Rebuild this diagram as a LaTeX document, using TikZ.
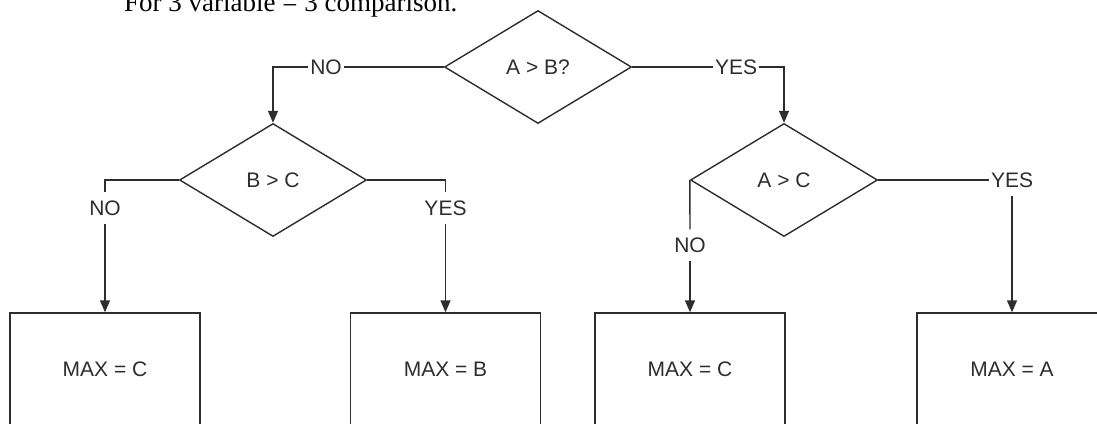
\documentclass[tikz,border=0pt]{standalone}
\usepackage{fontspec}
\setmainfont{Liberation Serif}
\newfontfamily\diagfont{Liberation Sans}
\usetikzlibrary{shapes.geometric,arrows.meta}
\definecolor{ink}{RGB}{45,45,45}
\begin{document}
\begin{tikzpicture}[x=1pt,y=-1pt,
  every node/.style={font=\diagfont\fontsize{21}{25}\selectfont, text=ink},
  dec/.style={draw=ink, line width=1.4pt, shape=diamond, minimum width=187pt, minimum height=113pt, inner sep=0pt},
  res/.style={draw=ink, line width=1.4pt, rectangle, minimum width=190pt, minimum height=112pt, inner sep=0pt},
  lbl/.style={inner xsep=2pt, inner ysep=8pt},
  conn/.style={draw=ink, line width=1.4pt},
  arr/.style={conn, -{Triangle[width=10pt,length=12pt]}}]
\useasboundingbox (0,0) rectangle (1097,423);
\clip (0,0) rectangle (1097,423);
\node[anchor=base west, font=\fontsize{27}{30}\selectfont, text=black, inner sep=0pt] (title) at (124,12) {For 3 variable = 3 comparison.};
% decisions
\node[dec] (d1) at (538,67) {A > B?};
\node[dec] (d2) at (273,180) {B > C};
\node[dec] (d3) at (784,180) {A > C};
% results
\node[res] (b1) at (105,369) {MAX = C};
\node[res] (b2) at (445.5,369) {MAX = B};
\node[res] (b3) at (690,369) {MAX = C};
\node[res] (b4) at (1012,369) {MAX = A};
% labels
\node[lbl] (no1) at (326,67) {NO};
\node[lbl] (yes1) at (736,67) {YES};
\node[lbl] (no2) at (105,208) {NO};
\node[lbl] (yes2) at (445.5,208) {YES};
\node[lbl] (no3) at (690,245) {NO};
\node[lbl] (yes3) at (1012,180) {YES};
% connectors
\draw[conn] (d1.west) -- (no1.east);
\draw[arr] (no1.west) -| (d2.north);
\draw[conn] (d1.east) -- (yes1.west);
\draw[arr] (yes1.east) -| (d3.north);
\draw[conn] (d2.west) -| (no2.north);
\draw[arr] (no2.south) -- (b1.north);
\draw[conn] (d2.east) -| (yes2.north);
\draw[arr] (yes2.south) -- (b2.north);
\draw[conn] (d3.west) -- (no3.north);
\draw[arr] (no3.south) -- (b3.north);
\draw[conn] (d3.east) -- (yes3.west);
\draw[arr] (yes3.south) -- (b4.north);
\end{tikzpicture}
\end{document}
